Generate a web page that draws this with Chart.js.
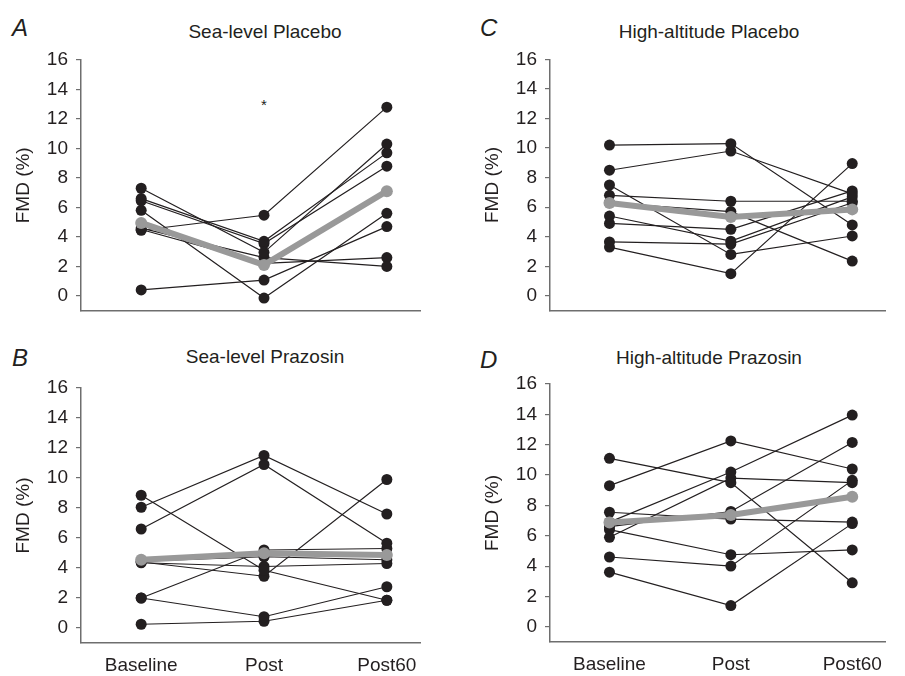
<!DOCTYPE html>
<html>
<head>
<meta charset="utf-8">
<script src="https://cdn.jsdelivr.net/npm/chart.js@4.4.1/dist/chart.umd.min.js"></script>
<style>
  body { margin: 0; background: #fff; width: 905px; height: 676px; position: relative; overflow: hidden;
         font-family: "Liberation Sans", Arial, sans-serif; color: #231f20; }
  canvas { position: absolute; }
  .letter { position: absolute; font-style: italic; font-size: 24px; line-height: 24px; }
  .title { position: absolute; font-size: 19px; line-height: 20px; transform: translateX(-50%); white-space: nowrap; }
  .star { position: absolute; font-size: 15px; line-height: 15px; transform: translateX(-50%); }
</style>
</head>
<body>
<div class="letter" style="left:12px; top:16px;">A</div>
<div class="letter" style="left:12px; top:346px;">B</div>
<div class="letter" style="left:480px; top:16px;">C</div>
<div class="letter" style="left:480px; top:348px;">D</div>

<div class="title" style="left:265px; top:22px;">Sea-level Placebo</div>
<div class="title" style="left:709px; top:22px;">High-altitude Placebo</div>
<div class="title" style="left:265px; top:347px;">Sea-level Prazosin</div>
<div class="title" style="left:709px; top:348px;">High-altitude Prazosin</div>
<div class="star" style="left:264px; top:97px;">*</div>

<canvas id="panelA" width="440" height="290" style="left:0px; top:40px;"></canvas>
<canvas id="panelC" width="436" height="290" style="left:469px; top:40px;"></canvas>
<canvas id="panelB" width="440" height="316" style="left:0px; top:360px;"></canvas>
<canvas id="panelD" width="436" height="316" style="left:469px; top:360px;"></canvas>

<script>
// Colors
const INK = '#231f20';
const GREY = '#999999';
const AXIS = '#6e6e6e';

// Categories and ticks
const timepoints = ['Baseline', 'Post', 'Post60'];
const yTickValues = [0, 2, 4, 6, 8, 10, 12, 14, 16];

// A - Sea-level Placebo (one row per subject: Baseline, Post, Post60)
const seaPlacebo = [
    [7.3, 2.95, 10.3],
    [6.6, 3.7, 9.7],
    [6.45, 3.55, 8.8],
    [5.8, -0.15, 5.6],
    [4.45, 5.47, 12.8],
    [4.6, 2.6, 2.0],
    [0.4, 1.07, 4.7],
    [4.5, 2.2, 2.6]
];
const seaPlaceboMean = [4.95, 2.1, 7.1];

// B - Sea-level Prazosin
const seaPrazosin = [
    [8.05, 11.5, 7.6],
    [6.6, 10.9, 5.65],
    [8.85, 3.85, 1.85],
    [2.0, 5.2, 5.3],
    [2.0, 0.75, 2.75],
    [0.25, 0.45, 1.85],
    [4.4, 3.45, 9.9],
    [4.35, 4.1, 4.3],
    [4.45, 4.75, 4.55]
];
const seaPrazosinMean = [4.55, 4.98, 4.87];

// C - High-altitude Placebo
const altPlacebo = [
    [10.2, 10.3, 4.8],
    [8.5, 9.8, 6.9],
    [7.5, 2.8, 4.05],
    [6.8, 6.4, 6.4],
    [6.3, 5.7, 2.35],
    [5.4, 3.7, 6.7],
    [4.9, 4.5, 7.1],
    [3.65, 3.5, 6.3],
    [3.3, 1.5, 8.95]
];
const altPlaceboMean = [6.28, 5.34, 5.85];

// D - High-altitude Prazosin
const altPrazosin = [
    [11.1, 9.5, 2.9],
    [9.3, 12.25, 10.4],
    [7.55, 7.1, 6.9],
    [6.9, 10.2, 13.95],
    [6.6, 7.6, 12.15],
    [6.4, 4.75, 5.07],
    [5.9, 9.8, 9.5],
    [4.6, 4.0, 9.65],
    [3.6, 1.4, 6.8]
];
const altPrazosinMean = [6.87, 7.37, 8.57];

Chart.defaults.font.family = '"Liberation Sans", Arial, sans-serif';
Chart.defaults.color = INK;

function toPoints(values) {
    return values.map((v, i) => ({ x: i, y: v }));
}

function makePanel(id, subjects, mean, padTop, xHeight, showX) {
    const datasets = [{
        data: toPoints(mean),
        borderColor: GREY,
        backgroundColor: GREY,
        borderWidth: 6,
        pointRadius: 6,
        pointBorderWidth: 0,
        order: 0
    }];
    subjects.forEach(s => {
        datasets.push({
            data: toPoints(s),
            borderColor: INK,
            backgroundColor: INK,
            borderWidth: 1.2,
            pointRadius: 5.5,
            pointBorderWidth: 0,
            order: 1
        });
    });

    new Chart(document.getElementById(id), {
        type: 'line',
        data: { datasets: datasets },
        options: {
            responsive: false,
            devicePixelRatio: 1,
            animation: false,
            layout: { padding: { top: padTop, right: 20, bottom: 0, left: 0 } },
            plugins: {
                legend: { display: false },
                tooltip: { enabled: false }
            },
            scales: {
                x: {
                    type: 'linear',
                    min: -0.49,
                    max: 2.27,
                    afterBuildTicks: ax => { ax.ticks = timepoints.map((_, i) => ({ value: i })); },
                    afterFit: ax => { ax.height = xHeight; },
                    grid: { display: false, drawTicks: false },
                    border: { color: AXIS, width: 1.5 },
                    ticks: {
                        display: showX,
                        padding: 11,
                        autoSkip: false,
                        maxRotation: 0,
                        font: { size: 19 },
                        callback: v => timepoints[v]
                    }
                },
                y: {
                    min: -1,
                    max: 16,
                    afterBuildTicks: ax => { ax.ticks = yTickValues.map(v => ({ value: v })); },
                    afterFit: ax => { ax.width = 81; },
                    grid: { drawOnChartArea: false, drawTicks: true, tickLength: 5, color: AXIS, lineWidth: 1.2 },
                    border: { color: AXIS, width: 1.5 },
                    ticks: { padding: 8, font: { size: 19 } },
                    title: {
                        display: true,
                        text: 'FMD (%)',
                        font: { size: 19 },
                        padding: { top: 12, bottom: 0 }
                    }
                }
            }
        }
    });
}

makePanel('panelA', seaPlacebo, seaPlaceboMean, 20, 14, false);
makePanel('panelC', altPlacebo, altPlaceboMean, 17, 14, false);
makePanel('panelB', seaPrazosin, seaPrazosinMean, 28, 33, true);
makePanel('panelD', altPrazosin, altPrazosinMean, 24, 34, true);
</script>
</body>
</html>
